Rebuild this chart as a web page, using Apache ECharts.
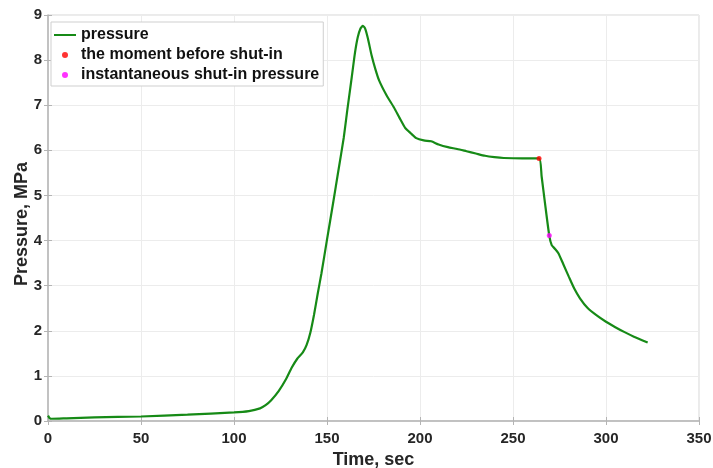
<!DOCTYPE html>
<html>
<head>
<meta charset="utf-8">
<script src="https://cdn.jsdelivr.net/npm/echarts@6/dist/echarts.min.js"></script>
<style>
  html, body { margin: 0; padding: 0; background: #fff; }
  #chart { width: 713px; height: 468px; }
</style>
</head>
<body>
<div id="chart"></div>
<script>
// Pressure record (time in s, pressure in MPa)
const timeSec = [0, 1, 2, 10, 25, 50, 75, 100, 108, 114, 117, 120, 124, 128, 131, 134, 137, 139, 141, 143, 145, 147, 150, 153.4, 156, 159, 161, 163.3, 165, 166.5, 168, 169.3, 170.5, 172, 174, 176, 178, 182, 186, 189, 192, 195, 198, 202, 206, 210, 215, 220, 225, 230, 235, 240, 245, 255, 264, 265.4, 267.2, 269.5, 270.8, 272.5, 274.4, 277, 280, 283, 286, 290, 295, 300, 305, 310, 315, 322.4];
const pressureMPa = [0.12, 0.06, 0.05, 0.06, 0.08, 0.10, 0.14, 0.19, 0.22, 0.28, 0.35, 0.46, 0.66, 0.93, 1.18, 1.38, 1.52, 1.68, 1.95, 2.35, 2.82, 3.27, 4.02, 4.86, 5.52, 6.28, 6.92, 7.62, 8.15, 8.50, 8.70, 8.76, 8.70, 8.48, 8.10, 7.80, 7.55, 7.22, 6.95, 6.72, 6.50, 6.38, 6.27, 6.22, 6.20, 6.13, 6.07, 6.03, 5.98, 5.93, 5.88, 5.85, 5.83, 5.82, 5.82, 5.42, 4.83, 4.11, 3.90, 3.82, 3.72, 3.48, 3.20, 2.93, 2.72, 2.51, 2.34, 2.20, 2.08, 1.97, 1.87, 1.74];

// Marked moments
const beforeShutIn = [264, 5.82];
const isip = [269.5, 4.11];

// Axis ticks
const xTicks = [0, 50, 100, 150, 200, 250, 300, 350];
const yTicks = [0, 1, 2, 3, 4, 5, 6, 7, 8, 9];

const seriesNames = ['pressure', 'the moment before shut-in', 'instantaneous shut-in pressure'];

const pressureData = timeSec.map((t, i) => [t, pressureMPa[i]]);

const font = '"Liberation Sans", Arial, sans-serif';
const textColor = '#262626';
const axisColor = '#b4b4b4';
const lineColor = '#168a16';

const chart = echarts.init(document.getElementById('chart'), null, { renderer: 'canvas' });

const xBase = {
  type: 'value',
  min: xTicks[0],
  max: xTicks[xTicks.length - 1],
  interval: xTicks[1] - xTicks[0]
};
const yBase = {
  type: 'value',
  min: yTicks[0],
  max: yTicks[yTicks.length - 1],
  interval: yTicks[1] - yTicks[0]
};

chart.setOption({
  animation: false,
  backgroundColor: '#ffffff',
  grid: {
    left: 48, right: 14, top: 15, bottom: 47,
    outerBoundsMode: 'none',
    containLabel: false,
    show: true, borderColor: '#d6d6d6', borderWidth: 1
  },
  legend: {
    orient: 'vertical',
    left: 51, top: 22,
    padding: [5, 4, 3, 3],
    itemGap: 4,
    itemWidth: 22,
    itemHeight: 6,
    itemTextGap: 1,
    backgroundColor: '#ffffff',
    borderColor: '#cfcfcf',
    borderWidth: 1,
    textStyle: { fontFamily: font, fontWeight: 'bold', fontSize: 16, color: '#111' },
    data: [
      { name: seriesNames[0], icon: 'path://M0,0h22v2h-22z', itemStyle: { color: lineColor } },
      { name: seriesNames[1] },
      { name: seriesNames[2] }
    ]
  },
  xAxis: [
    Object.assign({}, xBase, {
      position: 'bottom',
      name: 'Time, sec',
      nameLocation: 'middle',
      nameGap: 30,
      nameTextStyle: { fontFamily: font, fontWeight: 'bold', fontSize: 18, color: textColor },
      axisLine: { show: true, lineStyle: { color: axisColor, width: 1.5 } },
      axisTick: { show: true, inside: true, length: 4, lineStyle: { color: axisColor } },
      axisLabel: { margin: 10, fontFamily: font, fontWeight: 'bold', fontSize: 15, color: textColor },
      splitLine: { show: true, lineStyle: { color: '#ececec', width: 1 } }
    }),
    Object.assign({}, xBase, {
      position: 'top',
      axisLine: { show: false },
      axisTick: { show: true, inside: true, length: 4, lineStyle: { color: axisColor } },
      axisLabel: { show: false },
      splitLine: { show: false }
    })
  ],
  yAxis: [
    Object.assign({}, yBase, {
      position: 'left',
      name: 'Pressure, MPa',
      nameLocation: 'middle',
      nameGap: 17,
      nameMoveOverlap: false,
      nameRotate: 90,
      nameTextStyle: { fontFamily: font, fontWeight: 'bold', fontSize: 18, color: textColor, padding: [0, 12, 0, 0] },
      axisLine: { show: true, lineStyle: { color: axisColor, width: 1.5 } },
      axisTick: { show: true, inside: true, length: 4, lineStyle: { color: axisColor } },
      axisLabel: { margin: 6, fontFamily: font, fontWeight: 'bold', fontSize: 15, color: textColor },
      splitLine: { show: true, lineStyle: { color: '#ececec', width: 1 } }
    }),
    Object.assign({}, yBase, {
      position: 'right',
      axisLine: { show: false },
      axisTick: { show: true, inside: true, length: 4, lineStyle: { color: axisColor } },
      axisLabel: { show: false },
      splitLine: { show: false }
    })
  ],
  series: [
    {
      name: seriesNames[0],
      type: 'line',
      data: pressureData,
      symbol: 'none',
      smooth: 0.2,
      lineStyle: { color: lineColor, width: 2.2 },
      itemStyle: { color: lineColor },
      z: 2
    },
    {
      name: seriesNames[1],
      type: 'scatter',
      data: [beforeShutIn],
      symbol: 'circle',
      symbolSize: 5,
      itemStyle: { color: '#ff0000' },
      z: 3
    },
    {
      name: seriesNames[2],
      type: 'scatter',
      data: [isip],
      symbol: 'circle',
      symbolSize: 5,
      itemStyle: { color: '#ff00ff' },
      z: 3
    }
  ]
});
</script>
</body>
</html>
